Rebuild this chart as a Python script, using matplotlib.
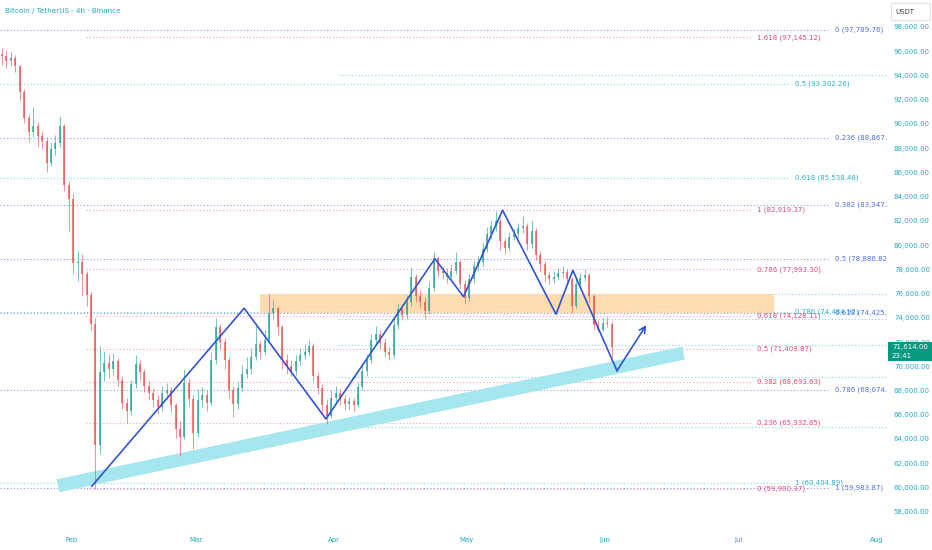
import numpy as np
import pandas as pd
import matplotlib
matplotlib.use("Agg")
import matplotlib.pyplot as plt
import matplotlib.dates as mdates
from matplotlib.patches import Rectangle

# daily OHLC (Jan 16 -> Jun 2)
start_day = "2026-01-16"
closes = [95600, 95200, 95400, 94800, 92600, 90500, 89300, 89800, 89000, 88600,
          86800, 87900, 88400, 89800, 85000, 83800, 78500, 78600, 77600, 75900,
          73500, 63500, 69500, 70300, 69800, 70400, 68900, 67000, 66300, 68500,
          70200, 69500, 68400, 67800, 67200, 66600, 67800, 68000, 66800, 64800,
          64200, 68600, 67300, 64500, 67200, 67600, 67000, 70500, 73200, 72000,
          70500, 68000, 66900, 68200, 69400, 69800, 70800, 71800, 71200, 72200,
          74400, 74800, 73200, 70500, 70000, 69600, 70400, 70900, 71200, 71700,
          69200, 68200, 66800, 65900, 67400, 67800, 67300, 66900, 67100, 66800,
          68300, 69600, 70500, 72200, 72700, 71900, 71200, 70900, 73400, 74700,
          74200, 75300, 77400, 75800, 75300, 74600, 76500, 78900, 77900, 77700,
          77400, 77900, 78600, 76800, 75600, 77200, 78300, 78600, 79700, 80900,
          81600, 82000, 80300, 79800, 80700, 80900, 81400, 81600, 80100, 81200,
          79200, 78400, 77500, 77200, 77400, 77700, 77800, 77200, 75000, 76800,
          77300, 77500, 75800, 73400, 73000, 73600, 73500, 71600]
highs = [96300, 96000, 95900, 95700, 94900, 92900, 90800, 91400, 90200, 89400,
         88900, 88500, 89100, 90600, 90000, 85300, 84300, 79500, 79300, 77900,
         76200, 74000, 71700, 71300, 71000, 71100, 70700, 69200, 67400, 68900,
         70900, 70500, 69800, 68800, 68200, 67600, 68400, 68600, 68300, 67000,
         65500, 69800, 69000, 67600, 68100, 68300, 68000, 71200, 74000, 73500,
         72300, 70800, 68400, 68800, 70100, 70800, 71500, 73600, 72100, 73000,
         76000, 75500, 75000, 73400, 71000, 70500, 70900, 71500, 71800, 72200,
         71900, 69500, 68500, 67300, 68000, 68400, 68100, 67600, 67500, 67400,
         68700, 70100, 71000, 72700, 73300, 73000, 72300, 71600, 74000, 75200,
         75000, 75900, 78200, 77600, 76300, 75700, 77000, 79400, 79100, 78300,
         78100, 78400, 79400, 78800, 77100, 77600, 78700, 79100, 80200, 81500,
         82100, 82800, 82300, 80600, 81100, 81300, 81800, 82400, 81800, 82000,
         81400, 79500, 78700, 77800, 77900, 78100, 78300, 78000, 77400, 77300,
         77700, 78000, 77700, 76000, 73800, 74000, 74100, 73700]
lows = [94900, 94600, 94800, 94300, 92000, 90100, 88500, 88900, 88100, 87900,
        86000, 86500, 87400, 88100, 84500, 81200, 77600, 77000, 75800, 75000,
        73000, 59900, 62800, 68800, 69000, 69300, 68300, 66500, 65300, 66000,
        68200, 68900, 67900, 67200, 66600, 66100, 66300, 67300, 66200, 64100,
        62600, 64000, 66700, 63200, 64200, 66600, 66300, 66800, 70200, 71400,
        69800, 67400, 65800, 66500, 67900, 69000, 69400, 70500, 70600, 70900,
        72000, 73900, 72600, 69800, 69400, 69200, 69300, 70100, 70600, 70900,
        68800, 67700, 66200, 65200, 65700, 67000, 66800, 66400, 66500, 66300,
        66600, 68000, 69200, 70300, 71800, 71400, 70800, 70500, 70700, 73100,
        73800, 73900, 75000, 75300, 74800, 73900, 74300, 76200, 77400, 77200,
        76900, 77100, 77600, 76400, 75100, 75400, 76900, 77900, 78300, 79400,
        80500, 81200, 79600, 79300, 79500, 80400, 80600, 81000, 79600, 79800,
        78800, 77900, 77000, 76800, 76900, 77100, 77300, 76700, 74400, 74800,
        76500, 77000, 75300, 73000, 72800, 72900, 73200, 70800]
first_open = 95800

# fib sets: (ratio label, price)
fib_blue = [("0", 97789.76), ("0.236", 88867.57), ("0.382", 83347.91), ("0.5", 78886.82),
            ("0.618", 74425.72), ("0.786", 68074.33), ("1", 59983.87)]
fib_pink = [("1.618", 97145.12), ("1", 82919.37), ("0.786", 77993.30), ("0.618", 74128.11),
            ("0.5", 71409.87), ("0.382", 68693.63), ("0.236", 65332.85), ("0", 59900.37)]
fib_teal = [("0.5", 93302.26), ("0.618", 85538.48), ("0.786", 74484.97), ("1", 60404.89)]
extra_levels = [94000, 76000, 73900, 71750, 69150, 64950]

# drawing: zigzag path, support band, supply zone
zz_dates = ["2026-02-05 16:00", "2026-03-11 22:00", "2026-03-30 07:00", "2026-04-23 19:00",
            "2026-04-30 05:00", "2026-05-09", "2026-05-21", "2026-05-24 19:00", "2026-06-03 17:00"]
zz_prices = [60100, 74790, 65650, 78880, 75750, 82880, 74300, 77920, 69630]
arrow_end = ("2026-06-10 07:00", 73400)
band_dates = ["2026-01-29 02:00", "2026-06-18 16:00"]
band_prices = [60140, 71090]
zone_dates = ["2026-03-15 12:00", "2026-07-09"]
zone_prices = [74430, 75950]

last_price = "71,614.00"
countdown = "23:41"

TEAL_TXT = "#23a9c0"
UP, DOWN = "#26a69a", "#ef5350"

fig = plt.figure(figsize=(9.32, 5.5), dpi=100)
ax = fig.add_axes([0, 20 / 550, 887 / 932, 530 / 550])

d = pd.date_range(start_day, periods=len(closes), freq="D")
x = mdates.date2num(d) + 0.5
opens = [first_open] + closes[:-1]
o = np.array(opens); c = np.array(closes)
cols = np.where(c >= o, UP, DOWN)

base = mdates.datestr2num("2026-02-01")
ax.set_xlim(base - 15.96, base + 183.4)
ax.set_ylim(56487, 100228)

def dn(s):
    return mdates.datestr2num(s)

# fib lines
xl, xr = ax.get_xlim()
for lab, p in fib_teal:
    ax.hlines(p, xl, base + 161.5, color="#7fd8e6", lw=0.8, ls=(0, (1, 2)), zorder=1)
    ax.text(base + 162.8, p, f"{lab} ({p:,.2f})", color="#27b3c6", fontsize=5,
            va="center", ha="left", zorder=5, clip_on=True)
for p in extra_levels:
    ax.hlines(p, base + 60, xr, color="#7fd8e6", lw=0.8, ls=(0, (1, 2)), zorder=1)
for lab, p in fib_blue:
    ax.hlines(p, xl, base + 170.5, color="#8f9cf0", lw=0.8, ls=(0, (1, 2)), zorder=1)
    ax.text(base + 171.7, p, f"{lab} ({p:,.2f})", color="#4d6ee8", fontsize=5,
            va="center", ha="left", zorder=5, clip_on=True)
for lab, p in fib_pink:
    ax.hlines(p, base + 3.4, base + 153, color="#f3a0b8", lw=0.8, ls=(0, (1, 2)), zorder=1)
    ax.text(base + 154.2, p, f"{lab} ({p:,.2f})", color="#e8457a", fontsize=5,
            va="center", ha="left", zorder=5, clip_on=True)

# supply zone
z0, z1 = dn(zone_dates[0]), dn(zone_dates[1])
ax.add_patch(Rectangle((z0, zone_prices[0]), z1 - z0, zone_prices[1] - zone_prices[0],
                       facecolor="#fdd9a6", edgecolor="none", alpha=0.9, zorder=2))

# support band
ax.plot([dn(s) for s in band_dates], band_prices, color="#a6e6ef", lw=9.5,
        solid_capstyle="butt", zorder=2)

# candles
ax.vlines(x, lows, highs, colors=cols, lw=0.6, alpha=0.75, zorder=3)
ax.bar(x, c - o, bottom=o, width=0.45, color=cols, alpha=0.75, zorder=3, linewidth=0)

# zigzag + arrow
zx = [dn(s) for s in zz_dates]
ax.plot(zx, zz_prices, color="#2f54d8", lw=1.2, zorder=4)
ax.annotate("", xy=(dn(arrow_end[0]), arrow_end[1]), xytext=(zx[-1], zz_prices[-1]),
            arrowprops=dict(arrowstyle="->", color="#2f54d8", lw=1.2, mutation_scale=11,
                            shrinkA=0, shrinkB=0), zorder=4)

# axes styling
for s in ax.spines.values():
    s.set_visible(False)
ax.yaxis.tick_right()
ax.set_yticks(np.arange(58000, 98001, 2000))
ax.yaxis.set_major_formatter(matplotlib.ticker.FuncFormatter(lambda v, _: f"{v:,.2f}"))
ax.tick_params(axis="y", length=0, pad=5, labelsize=5, labelcolor=TEAL_TXT)
ax.xaxis.set_major_locator(mdates.MonthLocator())
ax.xaxis.set_major_formatter(mdates.DateFormatter("%b"))
ax.tick_params(axis="x", length=0, pad=5, labelsize=5, labelcolor=TEAL_TXT)

fig.text(5 / 932, 1 - 11 / 550, "Bitcoin / TetherUS · 4h · Binance", color=TEAL_TXT,
         fontsize=5.2, va="center", ha="left", fontweight="medium")

# USDT box
fig.patches.append(Rectangle((891 / 932, 1 - 20 / 550), 39 / 932, 17 / 550,
                             transform=fig.transFigure, facecolor="white",
                             edgecolor="#e0e3eb", lw=0.8))
fig.text(895 / 932, 1 - 12 / 550, "USDT", color="#444", fontsize=5, va="center")

# last price tag
fig.patches.append(Rectangle((888 / 932, 1 - 361 / 550), 44 / 932, 19.5 / 550,
                             transform=fig.transFigure, facecolor="#089981",
                             edgecolor="none", zorder=10))
fig.text(892 / 932, 1 - 347 / 550, last_price, color="white", fontsize=5, va="center", zorder=11)
fig.text(892 / 932, 1 - 356 / 550, countdown, color="white", fontsize=5, va="center", zorder=11)

fig.savefig("out.png", dpi=100, facecolor="white")
